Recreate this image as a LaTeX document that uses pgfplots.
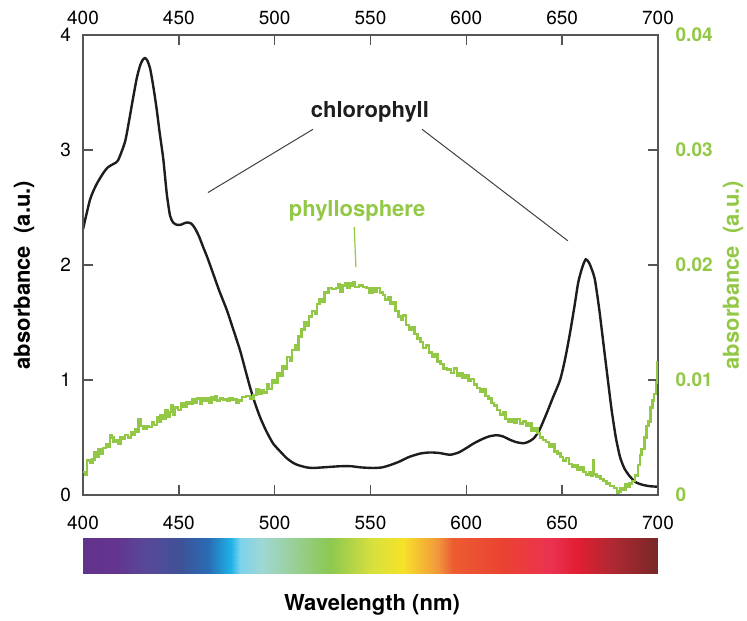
\documentclass[border=0pt]{standalone}
\usepackage{fontspec}
\setmainfont{TeX Gyre Heros}
\usepackage{pgfplots}
\pgfplotsset{compat=1.18}

\definecolor{leafgreen}{RGB}{146,200,70}
\definecolor{framegray}{RGB}{85,85,85}
\definecolor{inkblack}{RGB}{30,28,28}

\pgfplotsset{
  colormap={spectrum}{
    rgb255(0)=(98,51,140) rgb255(16)=(100,52,142) rgb255(33)=(88,72,152)
    rgb255(51)=(62,82,152) rgb255(65)=(42,108,180) rgb255(77)=(30,178,230)
    rgb255(82)=(125,210,238) rgb255(94)=(160,215,210) rgb255(112)=(152,206,142)
    rgb255(129)=(140,200,80) rgb255(151)=(215,224,62) rgb255(167)=(246,226,40)
    rgb255(185)=(241,150,60) rgb255(193)=(236,92,50) rgb255(219)=(235,66,50)
    rgb255(244)=(234,50,80) rgb255(258)=(225,30,50) rgb255(275)=(178,40,50)
    rgb255(300)=(120,40,40)
  },
  frame/.style={
    at={(0,0)}, anchor=south west,
    scale only axis, width=287.5pt, height=230pt,
    xmin=400, xmax=700,
    xtick={400,450,500,550,600,650,700},
    xticklabels={400,450,500,550,600,650,700},
    tick align=inside,
    axis line style={framegray, line width=0.8pt},
    every tick/.style={framegray, line width=0.8pt},
    ticklabel style={font=\fontsize{9.5}{11}\selectfont},
  },
}

\begin{document}
\begin{tikzpicture}

% chlorophyll, left axis, bottom labels
\begin{axis}[
  frame,
  ymin=0, ymax=4,
  ytick={0,1,2,3,4}, yticklabels={0,1,2,3,4},
  major tick length=5pt,
  xticklabel pos=bottom, yticklabel pos=left,
  xticklabel style={yshift=-6.8pt},
  yticklabel style={xshift=-2.5pt},
  xlabel={Wavelength (nm)},
  xlabel style={font=\bfseries\fontsize{11}{13}\selectfont,
    at={(axis description cs:0.5026,-0.239)}, anchor=center},
  ylabel={absorbance~~(a.u.)},
  ylabel style={font=\bfseries\fontsize{11}{13}\selectfont,
    at={(axis description cs:-0.1026,0.478)}, anchor=center},
  clip=false,
]
\addplot[inkblack, line width=1.2pt, line join=round, smooth, tension=0.4] coordinates {
  (400,2.31)(403.7,2.57)(407,2.70)(410.6,2.80)(413,2.85)(416,2.88)
  (418.3,2.91)(421.9,3.07)(424,3.25)(426,3.44)(428,3.62)(429.7,3.73)
  (431,3.78)(432.3,3.80)(433.5,3.78)(435,3.71)(436.7,3.55)(438.4,3.36)
  (440,3.15)(441.9,2.92)(443.7,2.62)(445.4,2.43)(447,2.37)(448.9,2.35)
  (451,2.35)(454.1,2.37)(456.5,2.36)(458.4,2.32)(460.5,2.25)(462.6,2.16)
  (465,2.06)(467.8,1.93)(471,1.78)(475,1.61)(478,1.46)(481.9,1.26)
  (484.5,1.10)(487.1,0.94)(489.5,0.81)(492.3,0.68)(495.5,0.56)(499.1,0.45)
  (502.8,0.38)(506.3,0.32)(509.6,0.28)(512.2,0.26)(516.7,0.24)(520,0.235)
  (525,0.24)(534,0.25)(540,0.25)(545,0.24)(551.3,0.235)(556,0.24)
  (560.2,0.26)(565,0.29)(570,0.33)(575.8,0.36)(581,0.37)(586,0.365)
  (591.5,0.35)(596,0.37)(600.2,0.41)(604,0.45)(608.8,0.49)(612,0.51)
  (615.8,0.52)(619,0.51)(622.8,0.48)(626,0.46)(629.7,0.45)(632,0.46)
  (635,0.49)(638,0.56)(641.9,0.71)(645,0.84)(648.9,1.0)(651.5,1.18)
  (654.1,1.41)(656.5,1.65)(658.4,1.85)(660.5,1.98)(662.3,2.05)(664,2.02)
  (665.5,1.96)(667.1,1.87)(669.3,1.62)(671.5,1.32)(673.7,1.02)(675.8,0.74)
  (678,0.50)(680.2,0.33)(682.5,0.23)(685.4,0.16)(688.5,0.11)(692.3,0.087)
  (696,0.076)(700,0.072)
};
% annotations
\node[font=\bfseries\fontsize{11}{13}\selectfont, text=inkblack]
  at (axis cs:549.7,3.33) {chlorophyll};
\draw[black!75, line width=0.5pt] (axis cs:520.0,3.18) -- (axis cs:465.2,2.63);
\draw[black!75, line width=0.5pt] (axis cs:576.9,3.18) -- (axis cs:653.0,2.21);
\node[font=\bfseries\fontsize{11}{13}\selectfont, text=leafgreen]
  at (axis cs:543.0,2.47) {phyllosphere};
\draw[leafgreen, line width=0.6pt] (axis cs:541.5,2.33) -- (axis cs:542.4,1.98);
\end{axis}

% phyllosphere, right axis, top labels
\begin{axis}[
  frame,
  ymin=0, ymax=0.04,
  ytick={0,0.01,0.02,0.03,0.04},
  yticklabels={0,0.01,0.02,0.03,0.04},
  scaled y ticks=false,
  major tick length=0pt,
  xticklabel pos=top, yticklabel pos=right,
  xticklabel style={yshift=1.5pt},
  yticklabel style={xshift=5.3pt, text=leafgreen,
    font=\bfseries\fontsize{9.5}{11}\selectfont},
  ylabel={absorbance~~(a.u.)},
  ylabel style={font=\bfseries\fontsize{11}{13}\selectfont, text=leafgreen,
    at={(axis description cs:1.1304,0.478)}, anchor=center},
]
\addplot[leafgreen, line width=1.25pt, const plot, line join=miter] coordinates {
  (400,0.0020)(401,0.0018)(402,0.0030)(404,0.0028)(405,0.0031)(406,0.0037)
  (407,0.0033)(408,0.0040)(409.5,0.0036)(410.5,0.0041)(412,0.0044)(413,0.0042)
  (414,0.0052)(415,0.0050)(416,0.0046)(417,0.0048)(418.5,0.0045)(419.5,0.0050)
  (421,0.0049)(422,0.0052)(423.5,0.0050)(425,0.0055)(426,0.0052)(427,0.0057)
  (428,0.0055)(429,0.0066)(430,0.0060)(431.5,0.0058)(433,0.0060)(434.5,0.0059)
  (436,0.0063)(437,0.0061)(438.5,0.0068)(439.5,0.0064)(440.5,0.0069)(442,0.0066)
  (443,0.0074)(444,0.0068)(445,0.0072)(446,0.0078)(447,0.0070)(448,0.0076)
  (449.5,0.0074)(451,0.0080)(452.5,0.0077)(454,0.0081)(455.5,0.0079)(457,0.0083)
  (458.5,0.0080)(459.5,0.0084)(461,0.0079)(462,0.0084)(463.5,0.0082)(465,0.0084)
  (466,0.0080)(467,0.0085)(468,0.0083)(469,0.0086)(470,0.0082)(471.5,0.0084)
  (473,0.0083)(475,0.0082)(476.5,0.0084)(478,0.0083)(480,0.0080)(481.5,0.0082)
  (483,0.0085)(485,0.0086)(487,0.0084)(489,0.0087)(490.5,0.0092)(491.5,0.0088)
  (493,0.0091)(494.5,0.0089)(496,0.0096)(497,0.0092)(498.5,0.0100)(500,0.0098)
  (501.5,0.0106)(503,0.0104)(504,0.0112)(505.5,0.0110)(506.5,0.0120)(508,0.0117)
  (509,0.0126)(510.5,0.0130)(511.5,0.0126)(512.5,0.0138)(514,0.0144)(515.5,0.0150)
  (517,0.0147)(518,0.0155)(519.5,0.0160)(521,0.0158)(522,0.0166)(523.5,0.0170)
  (525,0.0168)(526,0.0176)(528,0.0180)(530,0.0179)(532,0.0180)(533,0.0183)
  (534,0.0177)(535.5,0.0182)(537,0.0184)(538,0.0180)(539,0.0184)(540,0.0182)
  (541,0.0185)(542,0.0181)(544,0.0182)(546,0.0181)(548,0.0180)(549.5,0.0176)
  (551,0.0180)(552,0.0177)(553.5,0.0180)(555,0.0176)(556.5,0.0174)(557.5,0.0170)
  (559,0.0172)(560.5,0.0166)(562,0.0168)(563,0.0160)(564.5,0.0155)(566,0.0152)
  (567,0.0156)(568.5,0.0148)(570,0.0144)(571.5,0.0146)(573,0.0140)(574.5,0.0136)
  (576,0.0133)(577.5,0.0128)(579,0.0130)(580.5,0.0124)(582,0.0120)(583.5,0.0122)
  (585,0.0116)(586.5,0.0114)(588,0.0110)(590,0.0109)(592,0.0106)(593.5,0.0110)
  (595,0.0104)(596.5,0.0106)(598,0.0102)(599.5,0.0104)(601,0.0099)(602.5,0.0101)
  (604,0.0096)(605.5,0.0093)(607,0.0090)(608.5,0.0092)(610,0.0086)(611.5,0.0084)
  (613,0.0080)(614.5,0.0078)(616,0.0074)(617.5,0.0070)(619,0.0072)(620.5,0.0066)
  (622,0.0064)(623.5,0.0066)(625,0.0063)(626.5,0.0066)(628,0.0062)(629.5,0.0064)
  (631,0.0060)(632.5,0.0062)(634,0.0056)(635.5,0.0058)(637,0.0054)(638.5,0.0050)
  (640,0.0048)(641.5,0.0046)(643,0.0042)(644.5,0.0044)(646,0.0038)(647.5,0.0036)
  (649,0.0033)(650.5,0.0030)(652,0.0032)(653.5,0.0027)(655,0.0025)(656.5,0.0026)
  (658,0.0022)(659.5,0.0024)(661,0.0020)(662.5,0.0018)(664,0.0020)(665,0.0017)
  (666,0.0030)(666.5,0.0018)(668,0.0016)(670,0.0014)(671.5,0.0012)(673,0.0010)
  (675,0.0008)(677,0.0006)(678.5,0.0002)(679.5,0.0003)(680.5,0.0006)(682,0.0005)
  (683,0.0009)(684,0.0007)(685,0.0010)(686.5,0.0012)(688,0.0017)(689.5,0.0026)
  (690.5,0.0035)(691.5,0.0040)(693,0.0050)(694,0.0060)(695,0.0064)(696,0.0076)
  (697,0.0082)(698,0.0088)(699,0.0098)(699.5,0.0115)(700,0.0115)
};
\end{axis}

% visible spectrum bar
\begin{axis}[
  at={(0,-39pt)}, anchor=south west,
  scale only axis, width=287.5pt, height=17.5pt,
  xmin=400, xmax=700, ymin=0, ymax=1, zmin=-1, zmax=1,
  view={0}{90}, hide axis,
  colormap name=spectrum, point meta min=400, point meta max=700,
]
\addplot3[surf, shader=interp, point meta=x, mesh/rows=2] coordinates {
  (400,0,0)(416,0,0)(433,0,0)(451,0,0)(465,0,0)(477,0,0)(482,0,0)
  (494,0,0)(512,0,0)(529,0,0)(551,0,0)(567,0,0)(585,0,0)(593,0,0)
  (619,0,0)(644,0,0)(658,0,0)(675,0,0)(700,0,0)
  (400,1,0)(416,1,0)(433,1,0)(451,1,0)(465,1,0)(477,1,0)(482,1,0)
  (494,1,0)(512,1,0)(529,1,0)(551,1,0)(567,1,0)(585,1,0)(593,1,0)
  (619,1,0)(644,1,0)(658,1,0)(675,1,0)(700,1,0)
};
\end{axis}

\pgfresetboundingbox
\useasboundingbox (-41.5pt,-62.5pt) rectangle (332pt,247.5pt);
\end{tikzpicture}
\end{document}
